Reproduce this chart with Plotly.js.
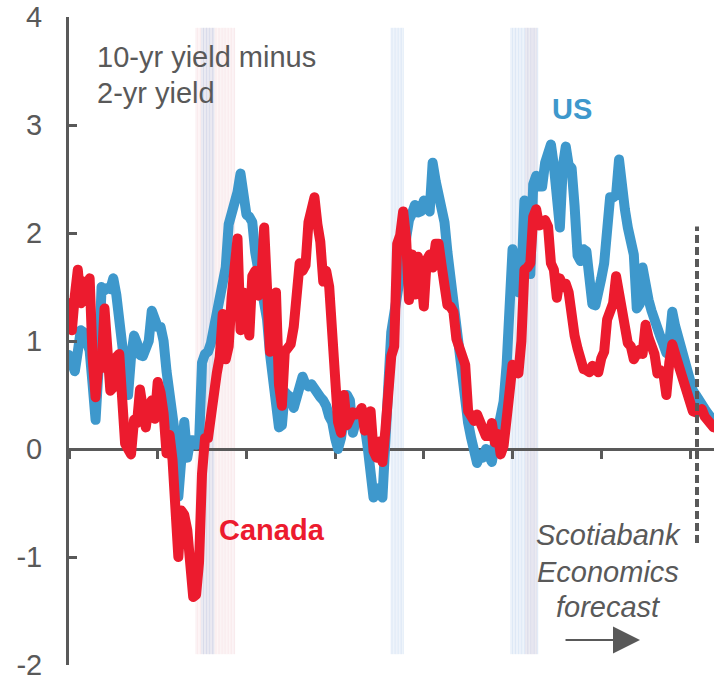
<!DOCTYPE html>
<html>
<head>
<meta charset="utf-8">
<script src="https://cdn.plot.ly/plotly-3.0.1.min.js"></script>
<style>
  html, body { margin: 0; padding: 0; background: #fff; }
  #chart { width: 714px; height: 681px; }
</style>
</head>
<body>
<div id="chart"></div>
<script>
// 10-yr minus 2-yr government yield spread, percentage points, every two months from Jan 1983
const seriesStart = { year: 1983, month: 1 };
const stepMonths = 2;

const usSpread = [
  0.87, 0.75, 0.72, 0.90, 1.10, 1.08, 0.96, 0.91, 0.60, 0.27,
  0.75, 1.50, 1.47, 1.49, 1.48, 1.58, 1.43, 1.18, 0.98, 0.84,
  0.50, 0.85, 1.05, 0.98, 0.87, 0.86, 0.92, 1.00, 1.28, 1.22,
  1.13, 1.13, 1.00, 0.72, 0.52, 0.37, 0.10, -0.44, 0.05, 0.25,
  -0.08, 0.08, 0.08, 0.04, 0.05, 0.80, 0.88, 0.90, 0.98, 1.10,
  1.28, 1.40, 1.45, 1.68, 2.08, 2.17, 2.27, 2.38, 2.55, 2.25,
  2.17, 2.15, 2.10, 1.82, 1.65, 1.52, 1.45, 1.20, 0.88, 0.60,
  0.35, 0.20, 0.22, 0.53, 0.50, 0.48, 0.38, 0.50, 0.62, 0.67,
  0.60, 0.58, 0.60, 0.55, 0.50, 0.48, 0.45, 0.40, 0.30, 0.25,
  0.10, 0.00, 0.10, 0.30, 0.50, 0.45, 0.15, 0.25, 0.30, 0.30,
  0.21, 0.02, -0.28, -0.45, -0.40, -0.36, -0.45, -0.05, 0.60, 1.08,
  1.25, 1.40, 1.63, 1.88, 2.03, 2.12, 2.18, 2.26, 2.19, 2.20,
  2.30, 2.28, 2.20, 2.65, 2.48, 2.38, 2.25, 2.10, 1.82, 1.57,
  1.37, 1.08, 0.87, 0.63, 0.40, 0.24, 0.10, 0.00, -0.13, -0.05,
  -0.08, 0.00, -0.10, -0.12, 0.04, 0.15, 0.33, 0.44, 0.78, 1.30,
  1.85, 1.72, 1.45, 1.55, 2.30, 2.20, 1.62, 2.45, 2.53, 2.43,
  2.43, 2.65, 2.78, 2.82, 2.62, 2.20, 2.05, 2.62, 2.80, 2.63,
  2.60, 2.25, 1.79, 1.74, 1.85, 1.83, 1.58, 1.34, 1.33, 1.42,
  1.58, 1.72, 2.20, 2.33, 2.33, 2.35, 2.68, 2.32, 2.22, 2.05,
  1.93, 1.80, 1.30, 1.34, 1.68, 1.48, 1.38, 1.28, 1.18, 1.09,
  1.04, 0.97, 0.89, 0.98, 1.27, 1.14, 1.03, 0.92, 0.82, 0.72,
  0.62, 0.54, 0.50, 0.44, 0.41, 0.37, 0.33, 0.29, 0.26
];

const canadaSpread = [
  1.35, 1.10, 1.42, 1.66, 1.35, 1.55, 1.37, 1.58, 0.85, 0.48,
  0.80, 0.75, 1.30, 0.77, 0.54, 0.57, 0.85, 0.88, 0.42, 0.05,
  0.00, -0.05, 0.27, 0.24, 0.55, 0.42, 0.20, 0.40, 0.45, 0.28,
  0.62, 0.52, 0.33, -0.04, 0.13, -0.10, -0.70, -1.00, -0.57, -0.61,
  -0.75, -1.12, -1.37, -1.35, -1.05, -0.23, 0.10, 0.10, 0.36, 0.55,
  0.70, 0.85, 1.25, 0.83, 0.95, 1.40, 1.65, 1.95, 1.10, 1.45,
  1.25, 1.05, 1.60, 1.65, 1.42, 1.55, 2.05, 1.58, 0.90, 1.00,
  1.45, 0.60, 0.40, 0.90, 0.95, 0.97, 1.13, 1.37, 1.72, 1.65,
  1.70, 2.10, 2.25, 2.33, 2.08, 1.92, 1.55, 1.65, 1.50, 0.95,
  0.45, 0.25, 0.15, 0.50, 0.22, 0.28, 0.34, 0.32, 0.33, 0.38,
  0.17, 0.25, 0.35, -0.02, -0.08, 0.07, -0.12, 0.18, 0.65, 0.86,
  0.95, 1.90, 1.98, 2.20, 1.95, 1.38, 1.80, 1.43, 1.78, 1.62,
  1.32, 1.75, 1.80, 1.68, 1.90, 1.90, 1.70, 1.40, 1.33, 1.32,
  1.27, 1.02, 0.94, 0.85, 0.78, 0.35, 0.30, 0.26, 0.32, 0.25,
  0.17, 0.12, 0.12, 0.24, 0.06, 0.14, -0.05, 0.03, 0.28, 0.55,
  0.78, 0.72, 0.70, 1.00, 1.66, 1.68, 1.72, 2.15, 2.22, 2.07,
  2.08, 2.12, 2.06, 1.72, 1.66, 1.40, 1.58, 1.50, 1.53, 1.45,
  1.20, 1.05, 0.93, 0.83, 0.74, 0.73, 0.71, 0.77, 0.72, 0.71,
  0.84, 0.90, 1.20, 1.30, 1.35, 1.60, 1.44, 1.30, 1.20, 0.98,
  0.95, 0.83, 0.88, 0.92, 0.88, 1.15, 1.03, 0.97, 0.88, 0.70,
  0.73, 0.70, 0.50, 0.80, 0.97, 0.88, 0.78, 0.67, 0.58, 0.48,
  0.40, 0.35, 0.34, 0.37, 0.37, 0.30, 0.27, 0.24, 0.20
];

// Recessions, first and last month
const usRecessions = [["1990-07", "1991-03"], ["2001-03", "2001-11"], ["2007-12", "2009-06"]];
const canadaRecessions = [["1990-03", "1992-05"], ["2008-10", "2009-05"]];

const forecastStart = "2018-05-25";
const yTicks = [-2, -1, 0, 1, 2, 3, 4];

const GREY = "#595959";
const BLUE = "#3E98CC";
const RED = "#EC1B2E";
const FONT = "Liberation Sans, Arial, sans-serif";
const SERIES_WIDTH = 10;

function monthDate(y, m) {
  const yy = y + Math.floor((m - 1) / 12);
  const mm = ((m - 1) % 12) + 1;
  return yy + "-" + String(mm).padStart(2, "0") + "-01";
}

const dates = usSpread.map((_, i) => monthDate(seriesStart.year, seriesStart.month + i * stepMonths));

// thin monthly stripes for the recession periods
function stripes(periods, color) {
  const out = [];
  periods.forEach(([a, b]) => {
    let [y, m] = a.split("-").map(Number);
    const [ye, me] = b.split("-").map(Number);
    while (y < ye || (y === ye && m <= me)) {
      const d = monthDate(y, m);
      out.push({
        type: "line", xref: "x", yref: "y", layer: "below",
        x0: d, x1: d, y0: -1.9, y1: 3.9,
        line: { color: color, width: 0.8 }
      });
      m += 1; if (m > 12) { m = 1; y += 1; }
    }
  });
  return out;
}

const shapes = [
  ...stripes(canadaRecessions, "rgba(236,190,196,0.4)"),
  ...stripes(usRecessions, "rgba(170,198,232,0.5)"),
  {
    type: "line", xref: "x", yref: "y", layer: "above",
    x0: forecastStart, x1: forecastStart, y0: -0.87, y1: 2.06,
    line: { color: GREY, width: 4, dash: "8px,4px" }
  }
];

const textFont = { family: FONT, size: 29, color: GREY };
const annotations = [
  { text: "10-yr yield minus", x: 0.040, y: 0.938, xanchor: "left", yanchor: "middle", font: textFont },
  { text: "2-yr yield", x: 0.040, y: 0.883, xanchor: "left", yanchor: "middle", font: textFont },
  { text: "<b>US</b>", x: 0.780, y: 0.858, xanchor: "center", yanchor: "middle",
    font: { family: FONT, size: 29, color: BLUE } },
  { text: "<b>Canada</b>", x: 0.315, y: 0.208, xanchor: "center", yanchor: "middle",
    font: { family: FONT, size: 29, color: RED } },
  { text: "<i>Scotiabank</i>", x: 0.836, y: 0.2006, xanchor: "center", yanchor: "middle", font: textFont },
  { text: "<i>Economics</i>", x: 0.836, y: 0.1435, xanchor: "center", yanchor: "middle", font: textFont },
  { text: "<i>forecast</i>", x: 0.836, y: 0.0895, xanchor: "center", yanchor: "middle", font: textFont },
  { text: "", x: 0.8853, y: 0.0386, ax: -76, ay: 0, showarrow: true,
    arrowhead: 2, arrowsize: 2.7, arrowwidth: 2, arrowcolor: GREY }
].map(a => Object.assign({ xref: "paper", yref: "paper", showarrow: false }, a));

const traces = [
  { x: dates, y: usSpread, type: "scatter", mode: "lines", name: "US",
    line: { color: BLUE, width: SERIES_WIDTH } },
  { x: dates, y: canadaSpread, type: "scatter", mode: "lines", name: "Canada",
    line: { color: RED, width: SERIES_WIDTH } }
];

const layout = {
  width: 714, height: 681,
  margin: { l: 69, r: 0, t: 17, b: 16 },
  paper_bgcolor: "#fff", plot_bgcolor: "#fff",
  showlegend: false,
  font: { family: FONT, color: GREY },
  xaxis: {
    type: "date",
    range: ["1983-01-01", "2019-05-10"],
    anchor: "free", position: 1 / 3,
    tick0: "1983-01-01", dtick: "M60",
    ticks: "outside", ticklen: 8, tickwidth: 3, tickcolor: GREY,
    showline: true, linecolor: GREY, linewidth: 3,
    showticklabels: false, showgrid: false, zeroline: false,
    layer: "below traces"
  },
  yaxis: {
    range: [-2, 4],
    tickvals: yTicks,
    ticktext: yTicks.map(String),
    ticks: "inside", ticklen: 8, tickwidth: 3, tickcolor: GREY,
    showline: true, linecolor: GREY, linewidth: 3,
    showgrid: false, zeroline: false,
    tickfont: { family: FONT, size: 29, color: GREY },
    ticklabelstandoff: 18,
    ticklabeloverflow: "allow"
  },
  shapes: shapes,
  annotations: annotations
};

Plotly.newPlot("chart", traces, layout, { displayModeBar: false, staticPlot: true }).then(gd => {
  // rounded joins on the thick series lines
  gd.querySelectorAll(".scatterlayer path.js-line").forEach(p => {
    p.style.strokeLinejoin = "round";
    p.style.strokeLinecap = "round";
    p.style.strokeWidth = SERIES_WIDTH + "px";
  });
});
</script>
</body>
</html>
